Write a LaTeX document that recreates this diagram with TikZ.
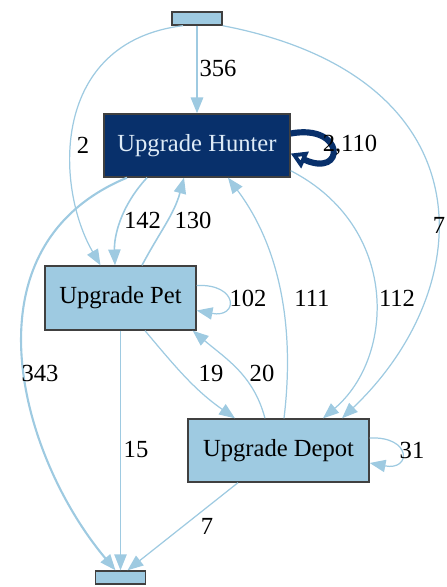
\documentclass[tikz,border=0pt]{standalone}
\usepackage{fontspec}
\setmainfont{Liberation Serif}
\usetikzlibrary{calc,arrows.meta}
\definecolor{navy}{HTML}{08306B}
\definecolor{paleblue}{HTML}{9ECAE1}
\definecolor{hunterfont}{HTML}{DEEBF7}

\begin{document}
\begin{tikzpicture}[x=0.02cm,y=0.02cm,>={Triangle[length=9pt,width=7pt]},
    font=\fontsize{14}{16}\selectfont,
    state/.style={draw=black!75,line width=0.8pt,fill=paleblue,inner sep=0pt},
    term/.style={state,minimum width=1cm,minimum height=0.26cm},
    flow/.style={->,paleblue,line width=0.7pt},
    count/.style={inner sep=1pt}]
    \useasboundingbox (0,0) rectangle (446,587);

    %======================================================
    % states
    %======================================================
    \node[term] (entry) at (197,568.5) {};
    \node[state,fill=navy,text=hunterfont,minimum width=3.72cm,minimum height=1.26cm]
        (hunter) at (197,441.5) {Upgrade Hunter};
    \node[state,minimum width=3.02cm,minimum height=1.28cm] (pet) at (120.5,289) {Upgrade Pet};
    \node[state,minimum width=3.62cm,minimum height=1.26cm] (depot) at (278.5,136.5) {Upgrade Depot};
    \node[term] (exit) at (120.5,9.5) {};

    %======================================================
    % transitions out of the entry
    %======================================================
    \draw[flow,line width=1.2pt] (entry) -- (hunter);
    \node[count] (c356) at (218,519) {356};

    \draw[flow] ($(entry.south)+(-14,0)$) .. controls (50,545) and (55,400) .. ($(pet.north)+(-20,0)$);
    \node[count] (c2) at (83,442) {2};

    \draw[flow] (entry.south east) .. controls (490,510) and (480,300) .. ($(depot.north)+(63.5,0)$);
    \node[count] (c7a) at (439,362) {7};

    %======================================================
    % Upgrade Hunter
    %======================================================
    \draw[->,navy,line width=3.5pt,>={Triangle[open,length=9pt,width=10pt]}]
        ($(hunter.east)+(0,12)$) .. controls +(55,10) and +(55,-25) .. ($(hunter.east)+(0,-8)$);
    \node[count] (c2110) at (350,441.5) {2,110};

    \draw[flow,line width=0.9pt] ($(hunter.south)+(-50,0)$) .. controls (120,380) and (114,350) .. ($(pet.north)+(-5.5,0)$);
    \node[count] (c142) at (142.5,367) {142};

    \draw[flow,line width=1.2pt] ($(hunter.south)+(-70,0)$) .. controls (-40,340) and (20,130) .. ($(exit.north)+(-5,0)$);
    \node[count] (c343) at (40,214) {343};

    \draw[flow] ($(hunter.south east)+(0,7)$) .. controls (400,360) and (395,230) .. ($(depot.north)+(44.5,0)$);
    \node[count] (c112) at (397,289) {112};

    %======================================================
    % Upgrade Pet
    %======================================================
    \draw[flow,line width=0.9pt] ($(pet.north)+(21.5,0)$) to[out=62,in=-105] ($(hunter.south)+(-13,0)$);
    \node[count] (c130) at (193,367) {130};

    \draw[flow] ($(pet.east)+(0,12.5)$) .. controls +(42,2) and +(42,-8) .. ($(pet.east)+(0,-12.5)$);
    \node[count] (c102) at (248,289) {102};

    \draw[flow] ($(pet.south)+(24.5,0)$) to[out=-50,in=145] ($(depot.north)+(-43.5,0)$);
    \node[count] (c19) at (211,214) {19};

    \draw[flow] (pet) -- (exit);
    \node[count] (c15) at (136,137) {15};

    %======================================================
    % Upgrade Depot
    %======================================================
    \draw[flow] ($(depot.north)+(5.5,0)$) .. controls (295,260) and (280,340) .. ($(hunter.south)+(31,0)$);
    \node[count] (c111) at (312,289) {111};

    \draw[flow] ($(depot.north)+(-13.5,0)$) to[out=105,in=-40] ($(pet.south east)+(-4,0)$);
    \node[count] (c20) at (262,214) {20};

    \draw[flow] ($(depot.east)+(0,12.5)$) .. controls +(42,2) and +(42,-8) .. ($(depot.east)+(0,-12.5)$);
    \node[count] (c31) at (412,137) {31};

    \draw[flow] ($(depot.south)+(-40.5,0)$) -- ($(exit.north)+(7,0)$);
    \node[count] (c7b) at (207,61) {7};
\end{tikzpicture}
\end{document}
